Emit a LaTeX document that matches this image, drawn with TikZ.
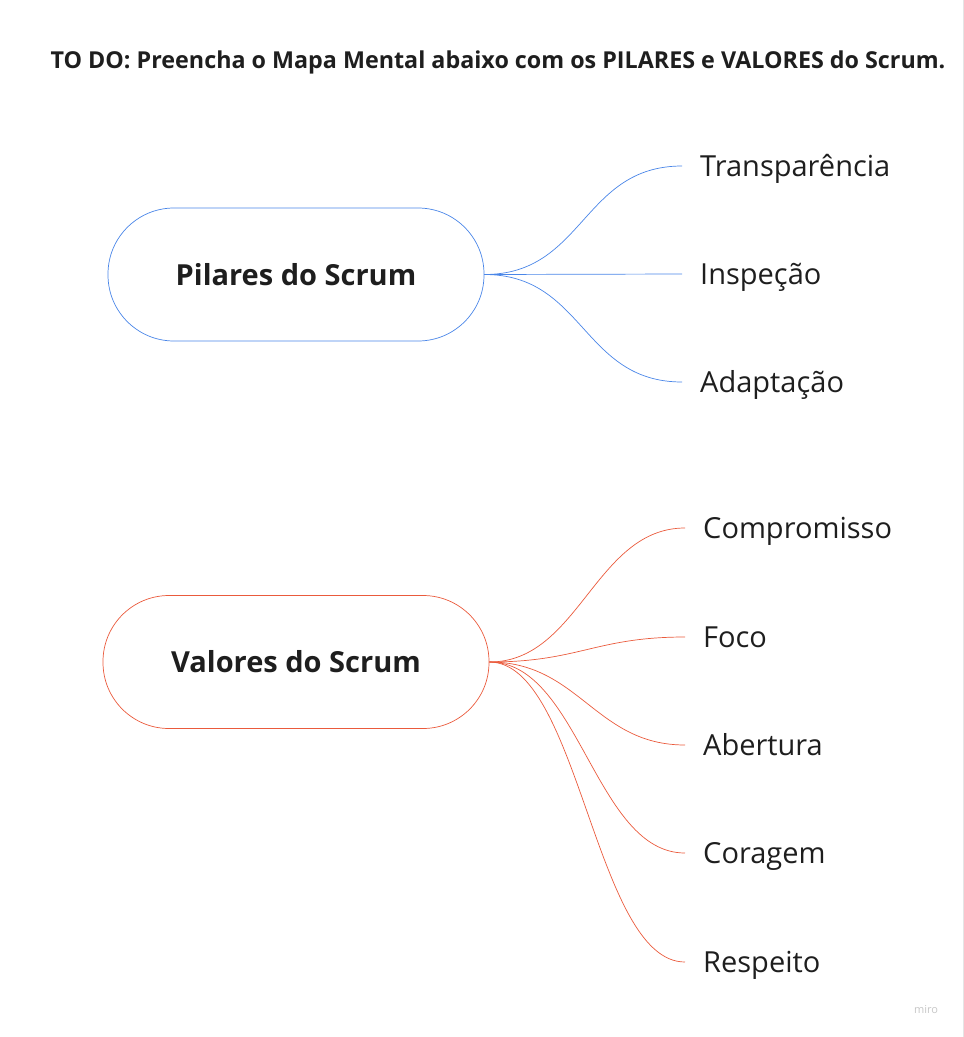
\documentclass[tikz,border=0pt]{standalone}
\usepackage{fontspec}
\setmainfont{Open Sans}
\usetikzlibrary{positioning}
\definecolor{pilblue}{RGB}{74,134,232}
\definecolor{valred}{RGB}{234,90,60}
\definecolor{inkgray}{RGB}{30,30,30}

\begin{document}
\begin{tikzpicture}[x=1pt, y=-1pt]
\tikzstyle{hub} = [rectangle, draw, minimum width=376pt, minimum height=133pt,
    rounded corners=66pt, text=inkgray, line width=0.7pt,
    font=\fontsize{29}{34}\selectfont\bfseries]
\tikzstyle{leaf} = [anchor=west, inner xsep=18pt, inner ysep=0pt, text=inkgray,
    text height=28pt, text depth=7pt, font=\fontsize{29}{34}\selectfont]
\tikzstyle{blueline} = [draw=pilblue, line width=0.7pt]
\tikzstyle{redline} = [draw=valred, line width=0.7pt]

\useasboundingbox (0,0) rectangle (964,1037);
\draw[black!10] (963.5,0) -- (963.5,1037);

\node (title) at (498,62) [text=inkgray, font=\fontsize{23.3}{28}\selectfont\bfseries]
    {TO DO: Preencha o Mapa Mental abaixo com os PILARES e VALORES do Scrum.};

% pilares
\node (pil) at (296,274.5) [hub, draw=pilblue] {Pilares do Scrum};
\node (transp) at (682,166) [leaf] {Transparência};
\node (insp) at (682,274) [leaf] {Inspeção};
\node (adapt) at (682,382) [leaf] {Adaptação};

\path[blueline] (pil.east) .. controls +(100,0) and +(-100,0) .. (transp.west);
\path[blueline] (pil.east) -- (insp.west);
\path[blueline] (pil.east) .. controls +(100,0) and +(-100,0) .. (adapt.west);

% valores
\node (val) at (296,662) [hub, draw=valred, minimum width=386pt] {Valores do Scrum};
\node (comp) at (685,528) [leaf] {Compromisso};
\node (foco) at (685,637) [leaf] {Foco};
\node (abert) at (685,745) [leaf] {Abertura};
\node (corag) at (685,853) [leaf] {Coragem};
\node (resp) at (685,962) [leaf] {Respeito};

\path[redline] (val.east) .. controls +(90,0) and +(-90,0) .. (comp.west);
\path[redline] (val.east) .. controls +(90,0) and +(-90,0) .. (foco.west);
\path[redline] (val.east) .. controls +(90,0) and +(-90,0) .. (abert.west);
\path[redline] (val.east) .. controls +(90,0) and +(-90,0) .. (corag.west);
\path[redline] (val.east) .. controls +(90,0) and +(-90,0) .. (resp.west);

\node (miro) at (926,1010) [text=black!22, font=\fontsize{11}{13}\selectfont] {miro};
\end{tikzpicture}
\end{document}
